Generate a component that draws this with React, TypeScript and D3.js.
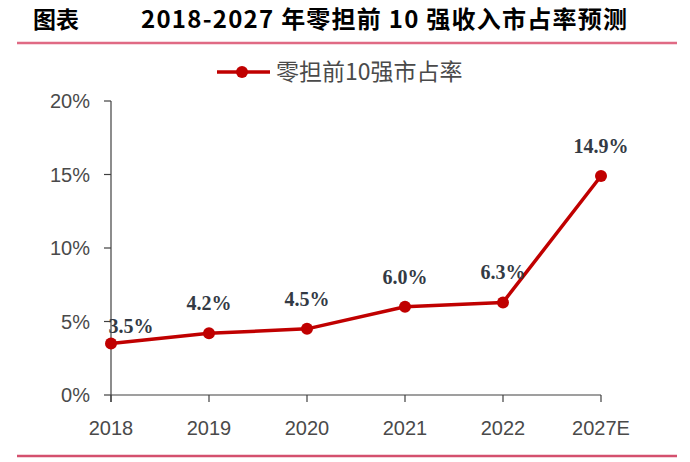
import React from "react";
import * as d3 from "d3";

const categories = ["2018", "2019", "2020", "2021", "2022", "2027E"];
const shareValues = [3.5, 4.2, 4.5, 6.0, 6.3, 14.9];
const shareLabels = ["3.5%", "4.2%", "4.5%", "6.0%", "6.3%", "14.9%"];
const yTicks = [0, 5, 10, 15, 20];
const yTickLabels = ["0%", "5%", "10%", "15%", "20%"];
const titleLeft = "图表";
const titleMain = "2018-2027 年零担前 10 强收入市占率预测";
const seriesName = "零担前10强市占率";

const W = 690;
const H = 462;
const RED = "#c00000";
const AXIS = "#404040";
const TEXT = "#4a4a4a";

export default function App() {
  const x = d3.scalePoint<string>().domain(categories).range([111, 601]).padding(0);
  const y = d3.scaleLinear().domain([0, 20]).range([395, 101]);
  const line = d3
    .line<number>()
    .x((_, i) => x(categories[i]) as number)
    .y((d) => y(d));

  const sans = "'Liberation Sans', Arial, sans-serif";
  const cjk = "'Noto Sans CJK SC', 'Noto Sans', sans-serif";

  return (
    <div style={{ position: "fixed", left: 0, top: 0, width: W, height: H, background: "#fff" }}>
      <svg width={W} height={H} style={{ display: "block" }}>
        <rect x={0} y={0} width={W} height={H} fill="#fff" />
        {/* title */}
        <text x={33} y={28} fontFamily={cjk} fontWeight={700} fontSize={23} fill="#000">
          {titleLeft}
        </text>
        <text
          x={141}
          y={28}
          fontFamily={cjk}
          fontWeight={700}
          fontSize={24}
          fill="#000"
          textLength={486}
          lengthAdjust="spacing"
        >
          {titleMain}
        </text>
        <line x1={17} x2={677} y1={43} y2={43} stroke="#e06a84" strokeWidth={2.5} />

        {/* legend */}
        <line x1={217} x2={270} y1={72} y2={72} stroke={RED} strokeWidth={3.5} />
        <circle cx={242} cy={72} r={6} fill={RED} />
        <text x={276} y={80} fontFamily={cjk} fontSize={23} fill={TEXT}>
          {seriesName}
        </text>

        {/* y axis */}
        <line x1={111} x2={111} y1={y(20)} y2={y(0) + 7} stroke={AXIS} strokeWidth={1.2} />
        {yTicks.map((t, i) => (
          <g key={t}>
            <line x1={104} x2={111} y1={y(t)} y2={y(t)} stroke={AXIS} strokeWidth={1.2} />
            <text
              x={90}
              y={y(t)}
              dy="0.36em"
              textAnchor="end"
              fontFamily={sans}
              fontSize={20}
              fill={TEXT}
            >
              {yTickLabels[i]}
            </text>
          </g>
        ))}

        {/* x axis */}
        <line x1={111} x2={601} y1={y(0)} y2={y(0)} stroke={AXIS} strokeWidth={1.2} />
        {categories.map((c) => (
          <g key={c}>
            <line
              x1={x(c) as number}
              x2={x(c) as number}
              y1={y(0)}
              y2={y(0) + 7}
              stroke={AXIS}
              strokeWidth={1.2}
            />
            <text
              x={x(c) as number}
              y={435}
              textAnchor="middle"
              fontFamily={sans}
              fontSize={20}
              fill={TEXT}
            >
              {c}
            </text>
          </g>
        ))}

        {/* series */}
        <path d={line(shareValues) || ""} fill="none" stroke={RED} strokeWidth={3.5} strokeLinejoin="round" />
        {shareValues.map((v, i) => (
          <circle key={i} cx={x(categories[i]) as number} cy={y(v)} r={6} fill={RED} />
        ))}
        {shareValues.map((v, i) => (
          <text
            key={"l" + i}
            x={(x(categories[i]) as number) + (i === 0 ? 20 : 0)}
            y={y(v) - (i === 0 ? 11 : 23)}
            textAnchor="middle"
            fontFamily="'Liberation Serif', 'Times New Roman', serif"
            fontWeight={700}
            fontSize={20}
            fill="#333a44"
          >
            {shareLabels[i]}
          </text>
        ))}

        {/* bottom rule */}
        <line x1={17} x2={677} y1={456} y2={456} stroke="#d4506e" strokeWidth={2.5} />
      </svg>
    </div>
  );
}
